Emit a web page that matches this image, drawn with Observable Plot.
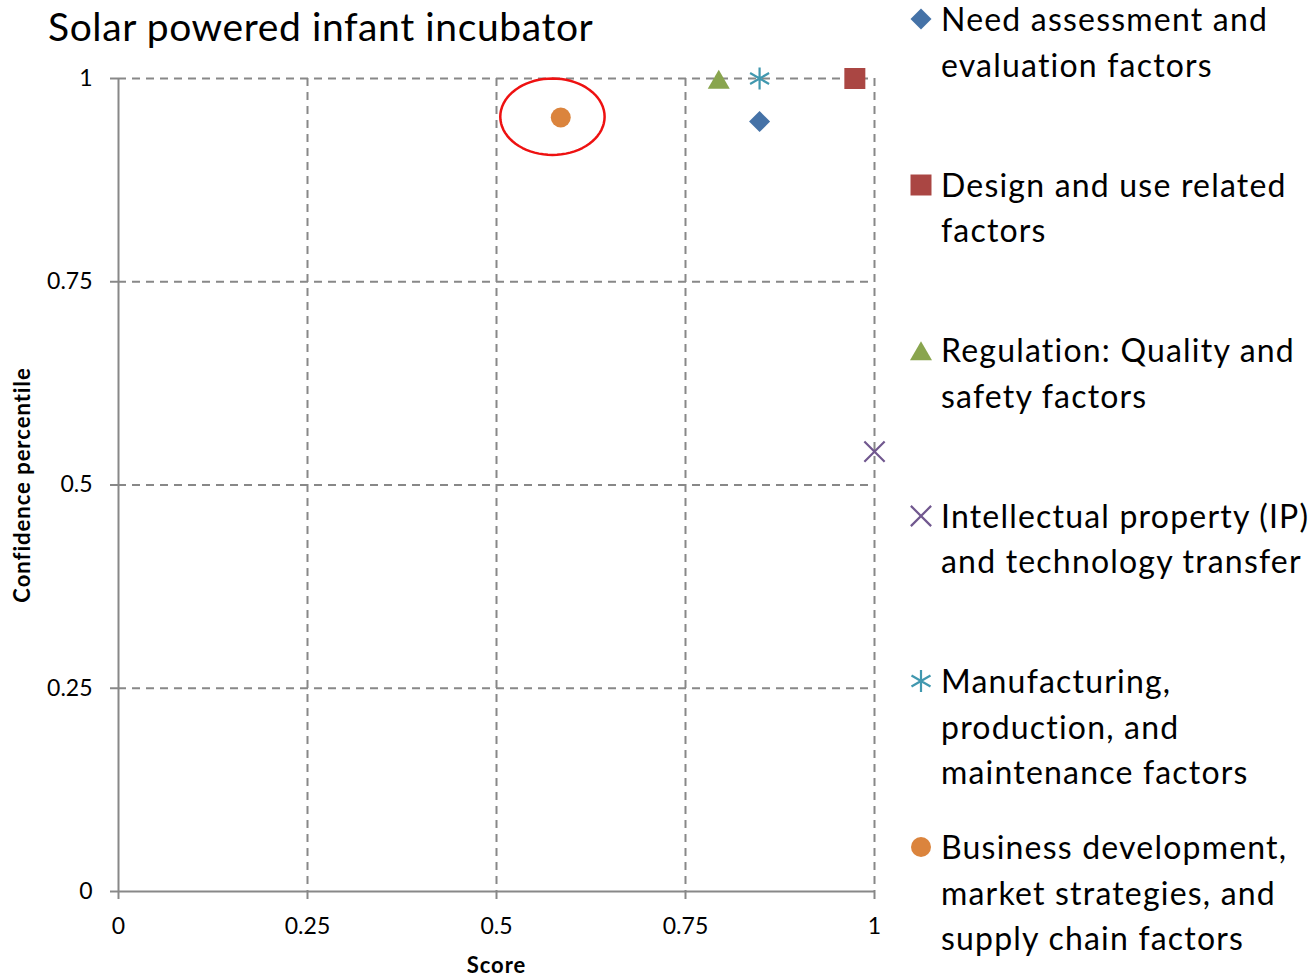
<!DOCTYPE html>
<html>
<head>
<meta charset="utf-8">
<script src="https://cdn.jsdelivr.net/npm/d3@7"></script>
<script src="https://cdn.jsdelivr.net/npm/@observablehq/plot@0.6"></script>
<style>
  html, body { margin: 0; padding: 0; background: #fff; }
  body { width: 1316px; height: 976px; position: relative; overflow: hidden; font-family: Lato, "Open Sans", sans-serif; }
  #title { position: absolute; left: 48px; top: 3px; font-size: 39px; letter-spacing: 0.6px; color: #000; white-space: nowrap; line-height: 1.2; }
  #chart { position: absolute; left: 0; top: 0; }
  #chart g[aria-label="text"] text { letter-spacing: 1px; }
  .leg { position: absolute; left: 909px; font-size: 32px; letter-spacing: 1.2px; line-height: 45.5px; color: #000; white-space: nowrap; }
  .leg svg { position: absolute; left: 0; top: 11px; overflow: visible; }
  .leg span { display: block; margin-left: 32px; }
</style>
</head>
<body>
<div id="title">Solar powered infant incubator</div>
<div id="chart"></div>
<div id="legend"></div>
<script>
// ---- data ----
const categories = [
  "Need assessment and evaluation factors",
  "Design and use related factors",
  "Regulation: Quality and safety factors",
  "Intellectual property (IP) and technology transfer",
  "Manufacturing, production, and maintenance factors",
  "Business development, market strategies, and supply chain factors"
];
const legendLines = [
  ["Need assessment and", "evaluation factors"],
  ["Design and use related", "factors"],
  ["Regulation: Quality and", "safety factors"],
  ["Intellectual property (IP)", "and technology transfer"],
  ["Manufacturing,", "production, and", "maintenance factors"],
  ["Business development,", "market strategies, and", "supply chain factors"]
];
const scoreValues      = [0.848, 0.974, 0.794, 1.000, 0.848, 0.585];
const confidenceValues = [0.947, 1.000, 1.000, 0.541, 1.000, 0.952];
const tickValues = [0, 0.25, 0.5, 0.75, 1];
const tickLabels = ["0", "0.25", "0.5", "0.75", "1"];
// highlight annotation (ellipse around business development point)
const highlightCenter = [0.574, 0.953];
const highlightRadius = [0.069, 0.047];

// ---- styles ----
const colors  = ["#4572A7", "#AA4643", "#89A54E", "#71588F", "#4198AF", "#DB843D"];
const symbols = ["diamond2", "square", "triangle", "times", "asterisk", "circle"];
const symSize = [281, 441, 210, 270, 340, 314];   // d3 symbol areas
const symShift = [0, 0, 4, 0, 0, 0];               // visual centring of triangle
const filled  = [true, true, true, false, false, true];
const legendSym = {diamond2: d3.symbolDiamond2, square: d3.symbolSquare, triangle: d3.symbolTriangle,
  times: d3.symbolTimes, asterisk: d3.symbolAsterisk, circle: d3.symbolCircle};

const rows = categories.map((c, i) => ({category: c, score: scoreValues[i], confidence: confidenceValues[i], i}));

const ellipse = [];
for (let k = 0; k <= 72; k++) {
  const a = (k / 72) * 2 * Math.PI;
  ellipse.push({x: highlightCenter[0] + highlightRadius[0] * Math.cos(a), y: highlightCenter[1] + highlightRadius[1] * Math.sin(a)});
}

const grey = "#888888";
const fmt = d => tickLabels[tickValues.indexOf(d)];
const dash = "8,6";

const marks = [
  Plot.gridX(tickValues.filter(d => d > 0), {stroke: grey, strokeOpacity: 1, strokeWidth: 2, strokeDasharray: dash}),
  Plot.gridY(tickValues.filter(d => d > 0), {stroke: grey, strokeOpacity: 1, strokeWidth: 2, strokeDasharray: dash}),
  Plot.ruleX([0], {stroke: grey, strokeWidth: 2}),
  Plot.ruleY([0], {stroke: grey, strokeWidth: 2.2}),
  Plot.axisX(tickValues, {tickFormat: fmt, tickSize: 8, tickPadding: 18, stroke: grey, strokeWidth: 2, fontSize: 23, fill: "#000", label: null}),
  Plot.axisY(tickValues, {tickFormat: fmt, tickSize: 8, tickPadding: 18, stroke: grey, strokeWidth: 2, fontSize: 23, fill: "#000", label: null}),
  Plot.text(["Score"], {frameAnchor: "bottom", dy: 81, fontSize: 22, fontWeight: "bold", fill: "#000"}),
  Plot.text(["Confidence percentile"], {frameAnchor: "left", textAnchor: "middle", dx: -96, rotate: -90, fontSize: 22, fontWeight: "bold", fill: "#000"})
];
rows.forEach((d, i) => {
  marks.push(Plot.dot([d], {
    x: "score", y: "confidence", symbol: () => symbols[i], r: Math.sqrt(symSize[i] / Math.PI), dy: symShift[i],
    fill: filled[i] ? colors[i] : "none",
    stroke: filled[i] ? "none" : colors[i], strokeWidth: 2.2,
    title: "category"
  }));
});
marks.push(Plot.line(ellipse, {x: "x", y: "y", stroke: "#EE1111", strokeWidth: 2.5, curve: "linear-closed"}));

const chart = Plot.plot({
  width: 900, height: 976,
  marginLeft: 118, marginRight: 26, marginTop: 78, marginBottom: 85,
  style: {fontFamily: "Lato, 'Open Sans', sans-serif", background: "transparent", overflow: "visible"},
  x: {domain: [0, 1], label: null},
  y: {domain: [0, 1], label: null},
  symbol: {type: "identity"},
  marks
});
document.getElementById("chart").appendChild(chart);

// ---- legend ----
const legTops = [0, 165.6, 331.2, 496.8, 662.4, 828];
const legend = document.getElementById("legend");
categories.forEach((c, i) => {
  const div = document.createElement("div");
  div.className = "leg";
  div.style.top = (legTops[i] - 4) + "px";
  const path = d3.symbol(legendSym[symbols[i]], symSize[i])();
  div.innerHTML = `<svg width="24" height="24" viewBox="-12 -12 24 24"><path transform="translate(0,${symShift[i]})" d="${path}" fill="${filled[i] ? colors[i] : "none"}" stroke="${filled[i] ? "none" : colors[i]}" stroke-width="2.2"/></svg>` +
    legendLines[i].map(l => `<span>${l}</span>`).join("");
  div.title = c;
  legend.appendChild(div);
});
</script>
</body>
</html>
